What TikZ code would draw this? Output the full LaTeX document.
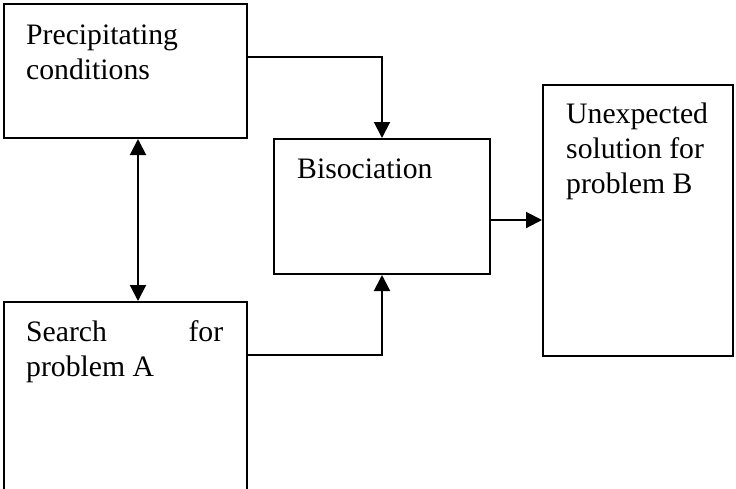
\documentclass[tikz,border=0pt]{standalone}
\usepackage{fontspec}
\setmainfont{Liberation Serif}
\usetikzlibrary{arrows.meta,calc}
\begin{document}
\begin{tikzpicture}[x=1pt,y=1pt,
  box/.style={draw,line width=2pt,rectangle,inner sep=0pt,anchor=north west},
  lbl/.style={anchor=base west,inner sep=0pt,font=\fontsize{29.7}{34.8}\selectfont},
  arr/.style={line width=2pt,-{Triangle[length=16pt,width=16pt]}},
  darr/.style={line width=2pt,{Triangle[length=16pt,width=16pt]}-{Triangle[length=16pt,width=16pt]}}]
\useasboundingbox (0,0) rectangle (736,-488);
\node[box,minimum width=243pt,minimum height=134pt] (p) at (3,-3) {};
\node[box,minimum width=243pt,minimum height=200pt] (s) at (3,-301) {};
\node[box,minimum width=216pt,minimum height=135pt] (b) at (273,-138) {};
\node[box,minimum width=190pt,minimum height=271pt] (u) at (542,-84) {};
\node[lbl] (pt1) at (26,-44) {Precipitating};
\node[lbl] (pt2) at (26,-79) {conditions};
\node[lbl] (st1) at (26,-341) {\makebox[197pt][s]{Search\hfill for}};
\node[lbl] (st2) at (26,-376) {problem A};
\node[lbl] (bt) at (297,-178) {Bisociation};
\node[lbl] (ut1) at (566,-123) {Unexpected};
\node[lbl] (ut2) at (566,-158) {solution for};
\node[lbl] (ut3) at (566,-193) {problem B};
\draw[arr] (p.east |- 0,-57) -| (b.north);
\draw[arr] (s.east |- 0,-355) -| (b.south);
\draw[arr] (b.east |- 0,-220) -- (u.west |- 0,-220);
\draw[darr] (p.south -| 138,0) -- (s.north -| 138,0);
\end{tikzpicture}
\end{document}
